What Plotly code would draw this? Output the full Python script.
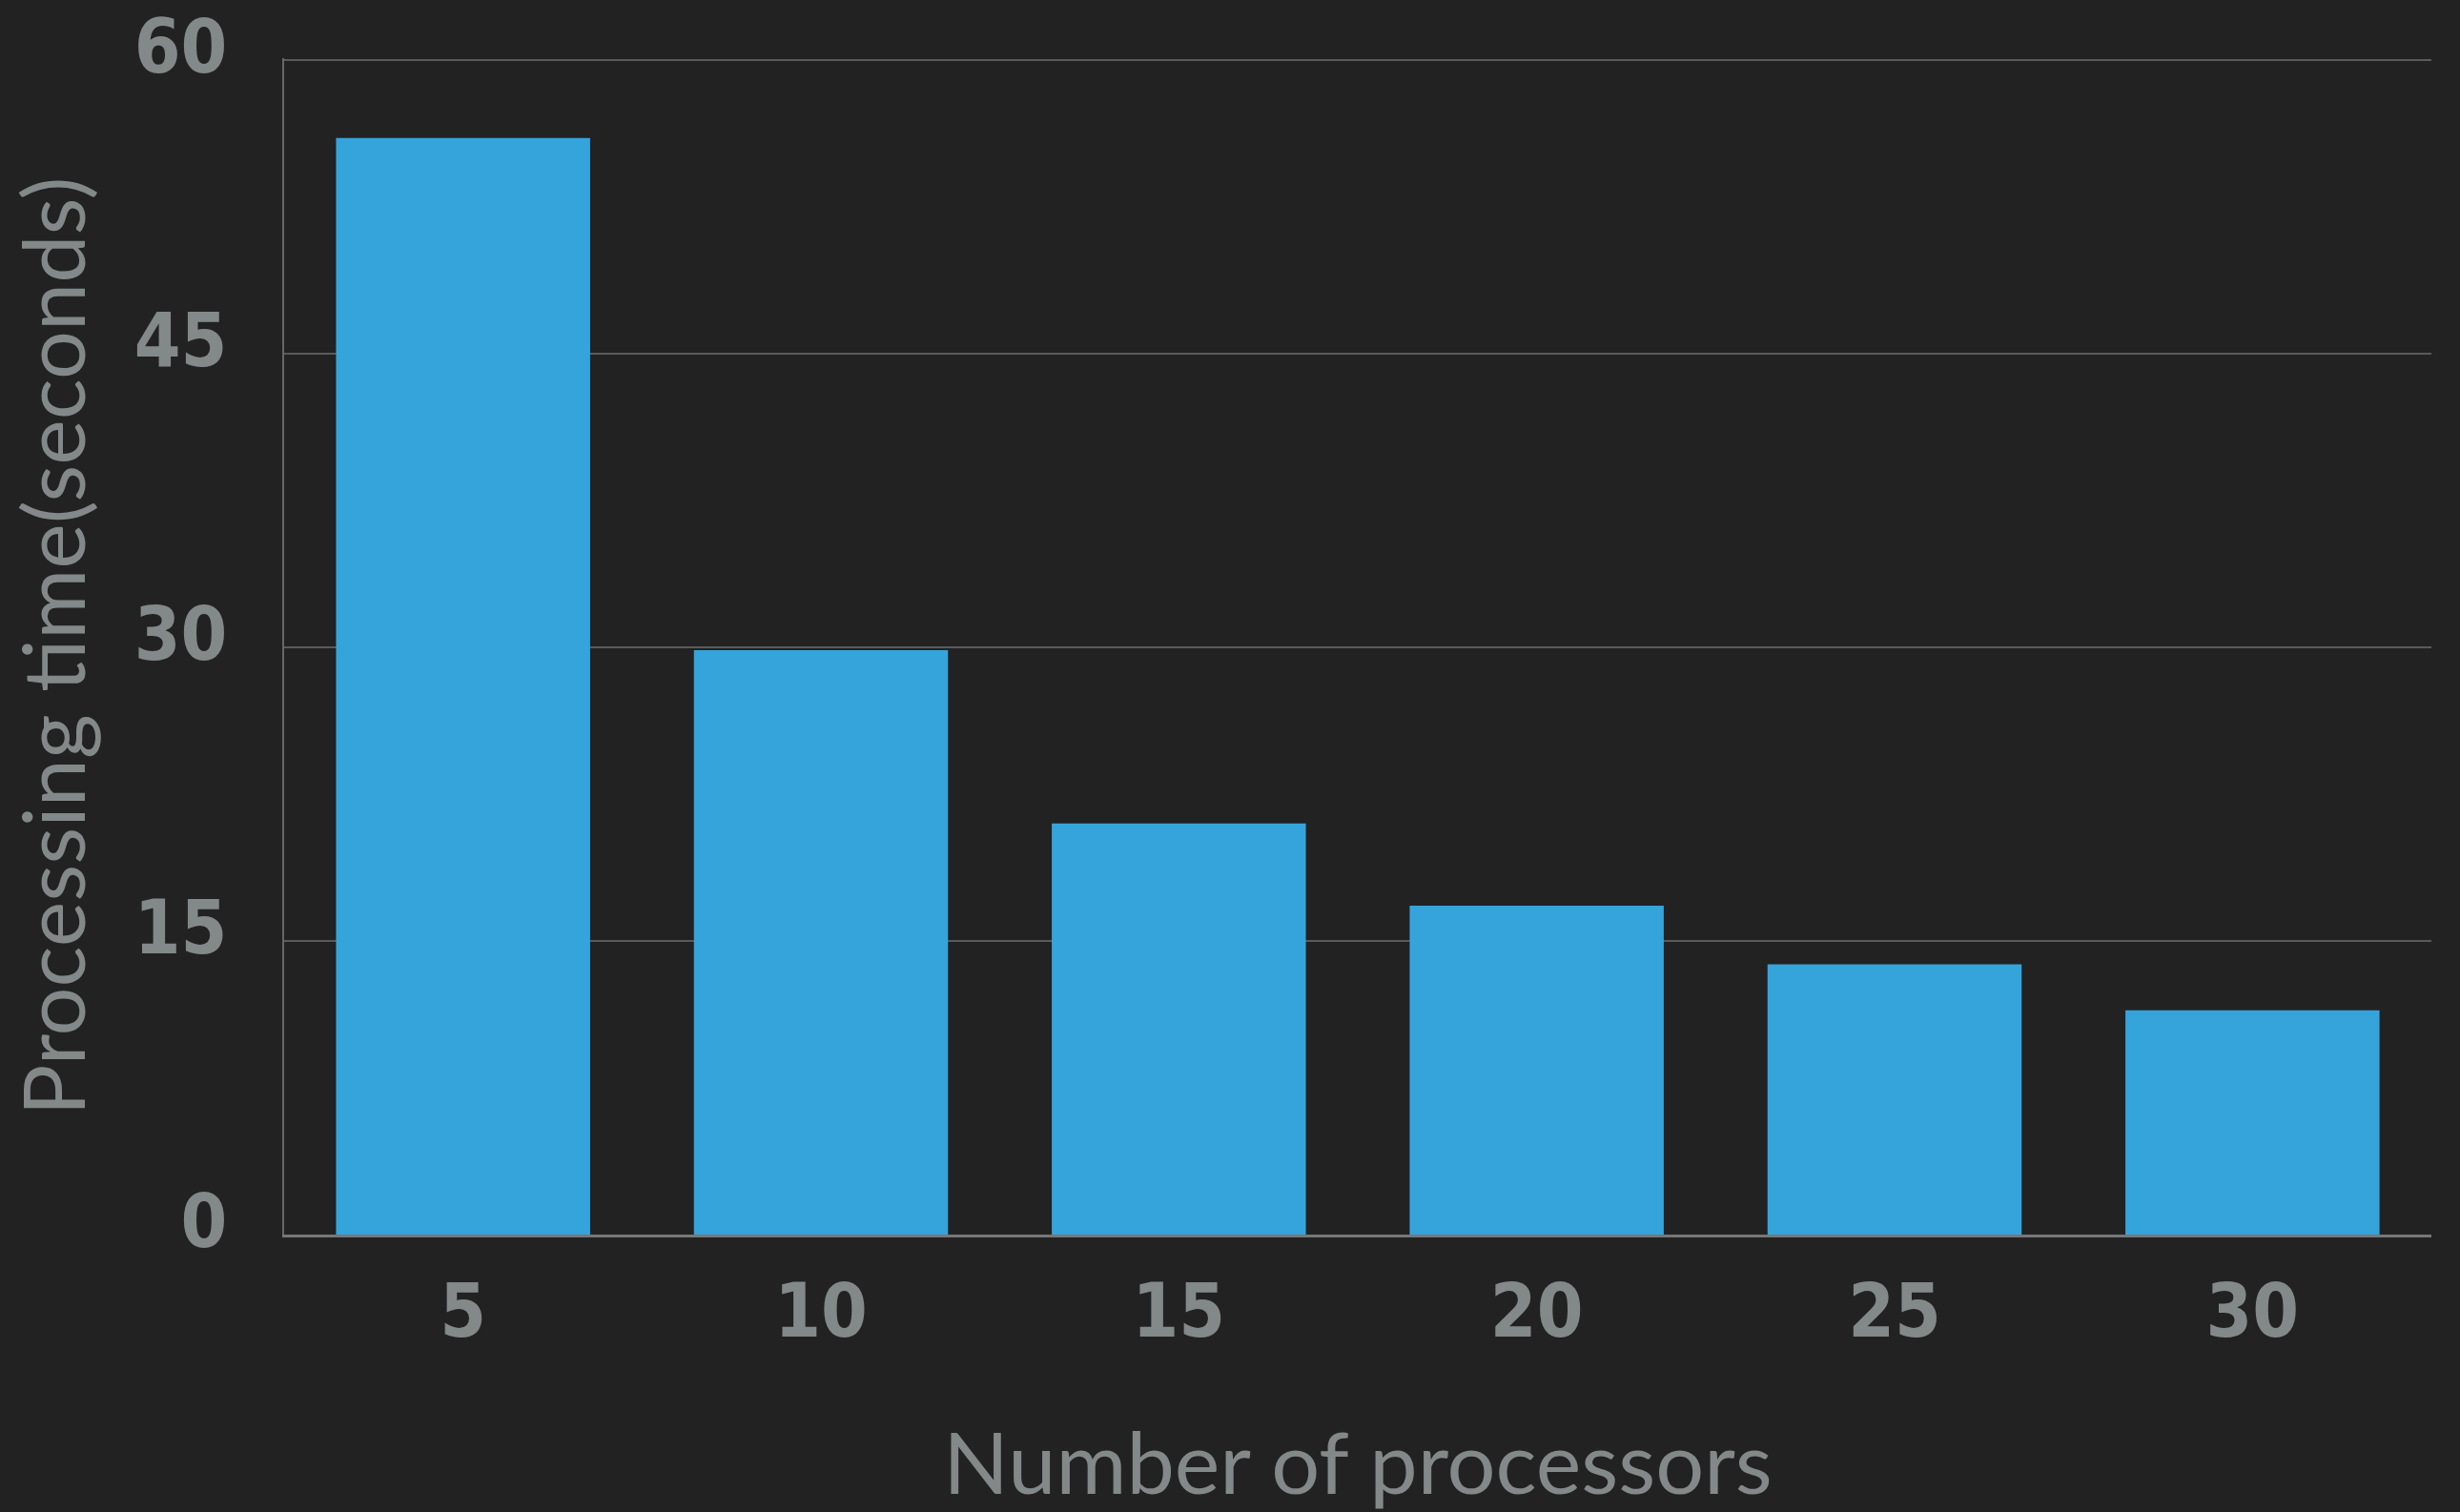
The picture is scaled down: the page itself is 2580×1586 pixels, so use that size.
import plotly.graph_objects as go

# Processing time per processor count
processors = ["5", "10", "15", "20", "25", "30"]
seconds = [56.0, 29.85, 21.0, 16.8, 13.8, 11.45]
y_ticks = [0, 15, 30, 45, 60]

BG = "#222222"
BAR = "#35a4db"
TEXT = "#838889"
GRID = "#5a5a5a"
NUM_FONT = "'DejaVu Sans Condensed', 'Liberation Sans Narrow', 'Arial Narrow', sans-serif"
TITLE_FONT = "Lato, 'Noto Sans', sans-serif"

fig = go.Figure(
    go.Bar(
        x=processors,
        y=seconds,
        marker=dict(color=BAR, line=dict(width=0)),
        width=0.71,
    )
)

fig.update_layout(
    width=2580,
    height=1586,
    paper_bgcolor=BG,
    plot_bgcolor=BG,
    margin=dict(l=298, r=30, t=61, b=291),
    showlegend=False,
    font=dict(color=TEXT),
)

fig.update_xaxes(
    type="category",
    automargin=False,
    showgrid=False,
    showline=True,
    linecolor="#777777",
    linewidth=3,
    ticks="",
    tickfont=dict(family=NUM_FONT, size=78, color=TEXT, weight=600),
    ticklabelstandoff=10,
    title=dict(
        text="Number of processors",
        font=dict(family=TITLE_FONT, size=90, color=TEXT),
        standoff=86,
    ),
)

fig.update_yaxes(
    range=[0, 60.08],
    automargin=False,
    tickvals=y_ticks,
    showgrid=True,
    gridcolor=GRID,
    gridwidth=2,
    zeroline=False,
    showline=True,
    linecolor="#666666",
    linewidth=2,
    ticks="",
    tickfont=dict(family=NUM_FONT, size=78, color=TEXT, weight=600),
    ticklabelstandoff=42,
    ticklabelshift=-14,
    title=dict(
        text="Processing time(seconds)",
        font=dict(family=TITLE_FONT, size=90, color=TEXT),
        standoff=40,
    ),
)

fig.write_html("out.html")
